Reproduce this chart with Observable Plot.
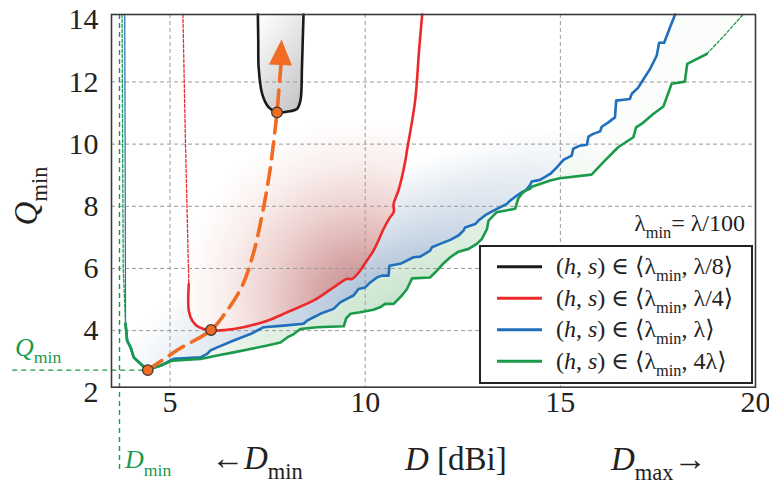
<!DOCTYPE html>
<html><head><meta charset="utf-8">
<script src="https://cdn.jsdelivr.net/npm/d3@7"></script>
<script src="https://cdn.jsdelivr.net/npm/@observablehq/plot@0.6"></script>
<style>body{margin:0;background:#fff} #chart{width:769px;height:484px} text{white-space:pre}</style>
</head><body><div id="chart"></div>
<script>
// ---- data (D [dBi], Q_min) ----
const xTicks = [5, 10, 15, 20];
const yTicks = [2, 4, 6, 8, 10, 12, 14];
const xGrid = [5, 10, 15];
const yGrid = [4, 6, 8, 10, 12];
const xDomain = [3.5, 20];
const yDomain = [2.18, 14.17];
const Dmin = 3.705;
const Qmin = 2.73;

const blackCurve = [[7.25,14.17],[7.26,13.33],[7.27,12.47],[7.36,11.62],[7.53,11.18],[7.74,11.02],[8.08,11.06],[8.25,11.13],[8.34,11.40],[8.38,12.47],[8.40,13.33],[8.42,14.17]];

const redDashed = [[5.33,14.17],[5.39,10.34],[5.48,5.50]];
const redSolid = [[5.48,5.50],[5.48,4.64],[5.57,4.32],[5.74,4.11],[6.04,4.01],[6.63,4.05],[7.49,4.32],[8.00,4.59],[8.68,4.97],[9.19,5.39],[9.53,5.66],[9.66,5.66],[9.87,5.93],[10.04,6.25],[10.21,6.57],[10.34,6.90],[10.47,7.27],[10.64,7.65],[10.73,7.81],[10.73,8.08],[10.85,8.50],[10.94,8.93],[11.03,9.47],[11.07,9.79],[11.28,11.40],[11.38,13.01],[11.46,14.17]];

const blueThin = [[3.84,14.17],[3.86,4.22]];
const blueSolid = [[3.86,4.22],[3.90,3.68],[3.99,3.46],[4.07,3.14],[4.16,3.03],[4.41,2.74],[4.75,2.87],[5.09,3.09],[5.78,3.14],[5.95,3.25],[6.03,3.36],[6.21,3.46],[6.63,3.68],[7.06,3.89],[7.40,4.11],[7.91,4.16],[8.42,4.22],[8.51,4.32],[8.68,4.43],[8.85,4.54],[9.19,4.70],[9.36,4.91],[9.53,5.02],[9.70,5.13],[9.83,5.34],[10.00,5.39],[10.13,5.55],[10.30,5.71],[10.43,5.77],[10.60,5.77],[10.62,6.09],[10.90,6.15],[11.24,6.36],[11.41,6.38],[11.66,6.57],[11.71,6.68],[11.92,6.79],[12.18,6.92],[12.39,7.06],[12.52,7.22],[12.56,7.32],[12.82,7.43],[12.90,7.54],[13.12,7.75],[13.29,7.86],[13.63,8.08],[13.71,8.18],[13.88,8.34],[14.01,8.45],[14.10,8.50],[14.22,8.67],[14.27,8.80],[14.48,8.85],[14.74,9.04],[14.91,9.25],[15.08,9.49],[15.29,9.63],[15.33,9.85],[15.50,9.95],[15.68,9.98],[15.72,10.24],[15.84,10.33],[16.02,10.41],[16.06,10.56],[16.23,10.70],[16.40,10.86],[16.43,11.40],[16.78,11.45],[16.83,11.62],[16.99,11.81],[17.08,11.99],[17.30,12.42],[17.47,12.85],[17.53,13.26],[17.66,13.26],[17.81,13.76],[17.94,14.17]];

const greenDashLeft = [[3.77,14.17],[3.80,6.00],[3.86,4.22]];
const greenSolid = [[3.86,4.22],[3.90,3.68],[3.99,3.46],[4.07,3.14],[4.16,3.03],[4.41,2.74],[4.75,2.87],[5.05,3.03],[5.78,3.09],[6.21,3.20],[6.63,3.30],[7.06,3.41],[7.49,3.52],[7.83,3.62],[8.00,3.78],[8.17,3.89],[8.34,4.05],[8.76,4.11],[9.45,4.14],[9.51,4.39],[9.62,4.54],[9.87,4.59],[10.21,4.67],[10.38,4.75],[10.51,4.86],[10.73,4.86],[10.94,5.13],[11.07,5.34],[11.20,5.68],[11.66,5.71],[11.84,5.93],[12.01,6.17],[12.18,6.36],[12.39,6.54],[12.65,6.63],[12.86,6.79],[12.99,6.95],[13.12,7.27],[13.16,7.54],[13.37,7.81],[13.84,7.92],[13.92,8.24],[14.01,8.40],[14.10,8.50],[14.22,8.56],[14.27,8.63],[14.48,8.72],[14.74,8.83],[14.99,8.90],[15.80,9.02],[16.14,9.47],[16.48,9.90],[16.87,10.22],[16.94,10.54],[17.08,10.65],[17.38,10.97],[17.64,11.21],[17.85,11.94],[18.19,12.01],[18.25,12.58],[18.75,12.90]];
const greenDashRight = [[18.75,12.90],[19.22,13.52],[19.68,14.17]];

const orangePath = [[4.43,2.73],[5.21,3.39],[6.05,4.02],[6.40,4.54],[6.83,5.39],[7.13,6.46],[7.38,7.86],[7.56,9.15],[7.68,10.34],[7.74,11.02],[7.80,11.90],[7.84,12.53]];
const arrowTip = [7.87, 13.35];
const minima = [[4.43,2.73],[6.05,4.02],[7.74,11.02]];

const legendLabels = ["λ/8", "λ/4", "λ", "4λ"];
const legendColors = ["#1a1a1a", "#ec2a2c", "#1f6fbb", "#1b9a4a"];

// ---- styles ----
const FONT = "Liberation Serif, DejaVu Serif, serif";
const C = {black: legendColors[0], red: legendColors[1], blue: legendColors[2], green: legendColors[3], orange: "#f26b22", grid: "#9a9a9a"};
const yTop = yDomain[1];
const px = d => d[0], py = d => d[1];

const plot = Plot.plot({
  width: 769, height: 484,
  marginLeft: 111, marginRight: 14, marginTop: 14, marginBottom: 97.3,
  style: {fontFamily: FONT, background: "#fff", overflow: "visible"},
  x: {domain: xDomain, axis: null},
  y: {domain: yDomain, axis: null},
  marks: [
    Plot.area(greenSolid.concat(greenDashRight), {x1: px, y1: py, y2: () => yTop, fill: "url(#gGreen)"}),
    Plot.area(blueThin.concat(blueSolid), {x1: px, y1: py, y2: () => yTop, fill: "url(#gBlue)"}),
    Plot.area(redDashed.concat(redSolid), {x1: px, y1: py, y2: () => yTop, fill: "url(#gRed)"}),
    Plot.area(blackCurve, {x1: px, y1: py, y2: () => yTop, fill: "url(#gBlack)", curve: "catmull-rom"}),
    Plot.ruleX(xGrid, {stroke: C.grid, strokeWidth: 1, strokeDasharray: "4,3"}),
    Plot.ruleY(yGrid, {stroke: C.grid, strokeWidth: 1, strokeDasharray: "4,3"}),
    Plot.line(blueThin, {x: px, y: py, stroke: C.blue, strokeWidth: 1.2}),
    Plot.line(blueSolid, {x: px, y: py, stroke: C.blue, strokeWidth: 2.6}),
    Plot.line(greenDashLeft, {x: px, y: py, stroke: C.green, strokeWidth: 1.3, strokeDasharray: "3,2"}),
    Plot.line(greenDashRight, {x: px, y: py, stroke: C.green, strokeWidth: 1.3, strokeDasharray: "3,2"}),
    Plot.line(greenSolid, {x: px, y: py, stroke: C.green, strokeWidth: 2.6}),
    Plot.line(redDashed, {x: px, y: py, stroke: C.red, strokeWidth: 1.3, strokeDasharray: "3,2"}),
    Plot.line(redSolid, {x: px, y: py, stroke: C.red, strokeWidth: 2.6, curve: "catmull-rom"}),
    Plot.line(blackCurve, {x: px, y: py, stroke: C.black, strokeWidth: 2.6, curve: "catmull-rom"}),
    Plot.ruleX([Dmin], {y1: yTop, y2: -0.5, stroke: C.green, strokeWidth: 1.4, strokeDasharray: "5,4"}),
    Plot.ruleY([Qmin], {x1: 0.97, x2: minima[0][0], stroke: C.green, strokeWidth: 1.4, strokeDasharray: "5,4"}),
    Plot.frame({stroke: "#3a3a3a", strokeWidth: 1.6}),
    Plot.line(orangePath, {x: px, y: py, stroke: C.orange, strokeWidth: 3.6, strokeDasharray: "17,9", curve: "catmull-rom"}),
    Plot.dot(minima, {x: px, y: py, r: 5.3, fill: C.orange, stroke: "#333", strokeWidth: 1.2}),
    Plot.text(yTicks, {y: d => d, text: d => String(d), frameAnchor: "left", dx: -13, textAnchor: "end", fontSize: 30, fontFamily: FONT, fill: "#222"}),
    Plot.text(xTicks, {x: d => d, text: d => String(d), frameAnchor: "bottom", dy: 25, fontSize: 30, fontFamily: FONT, fill: "#222"})
  ]
});
document.getElementById("chart").appendChild(plot);

// ---- post: gradients, arrowhead, rich labels, legend ----
const svg = d3.select(plot);
const xs = plot.scale("x"), ys = plot.scale("y");
const X = v => xs.apply(v), Y = v => ys.apply(v);
const defs = svg.insert("defs", ":first-child");
function radial(id, c, rx, ry, angle, stops) {
  const cx = X(c[0]), cy = Y(c[1]);
  const g = defs.append("radialGradient").attr("id", id).attr("gradientUnits", "userSpaceOnUse")
    .attr("cx", cx).attr("cy", cy).attr("r", rx)
    .attr("gradientTransform", `translate(${cx},${cy}) rotate(${angle}) scale(1,${ry / rx}) translate(${-cx},${-cy})`);
  stops.forEach(([o, col]) => g.append("stop").attr("offset", o).attr("stop-color", col));
}
radial("gBlue", [10.4, 5.5], 300, 100, -25, [[0, "#acc1d8"], [0.45, "#d6e0eb"], [1, "#ffffff"]]);
radial("gRed", [9.9, 5.0], 180, 180, 0, [[0, "#c08a8e"], [0.25, "#d9a9a9"], [0.5, "#ecd0ce"], [0.75, "#f9eeec"], [1, "#ffffff"]]);
radial("gGreen", [10.8, 4.9], 300, 110, -25, [[0, "#c8e4cd"], [0.5, "#e3f1e5"], [1, "#fbfdfb"]]);
{
  const g = defs.append("linearGradient").attr("id", "gBlack").attr("x1", 0.2).attr("y1", 0).attr("x2", 0.8).attr("y2", 1);
  g.append("stop").attr("offset", 0).attr("stop-color", "#fcfcfc");
  g.append("stop").attr("offset", 1).attr("stop-color", "#c6c6c6");
}

// arrowhead
{
  const b = orangePath[orangePath.length - 1];
  const bx = X(b[0]), by = Y(b[1]), tx = X(arrowTip[0]), ty = Y(arrowTip[1]);
  const L = Math.hypot(tx - bx, ty - by), ux = (tx - bx) / L, uy = (ty - by) / L, hw = 11.5;
  const p = [[tx, ty], [bx - uy * hw, by + ux * hw], [bx + uy * hw, by - ux * hw]];
  svg.append("path").attr("d", "M" + p.map(q => q.join(",")).join("L") + "Z").attr("fill", C.orange);
}

function rich(parent, x, y, parts, {size = 22, anchor = "start", fill = "#222", rotate = 0} = {}) {
  const t = parent.append("text").attr("x", x).attr("y", y).attr("font-family", FONT)
    .attr("font-size", size).attr("fill", fill).attr("text-anchor", "start");
  let shift = 0;
  for (const p of parts) {
    const ts = t.append("tspan").text(p.t);
    if (p.i) ts.attr("font-style", "italic");
    const target = p.sub ? size * 0.3 : 0;
    if (target !== shift) { ts.attr("dy", target - shift); shift = target; }
    if (p.sub) ts.attr("font-size", size * 0.68);
  }
  const len = t.node().getComputedTextLength();
  const off = anchor === "end" ? len : anchor === "middle" ? len / 2 : 0;
  t.attr("x", x - off);
  if (rotate) t.attr("transform", `rotate(${rotate},${x},${y})`);
  return t;
}
// axis labels
rich(svg, 37, 196, [{t: "Q", i: 1}, {t: "min", sub: 1}], {size: 33, anchor: "middle", rotate: -90});
rich(svg, 211, 469, [{t: "←"}, {t: "D", i: 1}, {t: "min", sub: 1}], {size: 33});
rich(svg, 405, 470, [{t: "D", i: 1}, {t: " [dBi]"}], {size: 33});
rich(svg, 611, 470, [{t: "D", i: 1}, {t: "max", sub: 1}, {t: "→"}], {size: 33});
// green annotations
rich(svg, X(Dmin) + 6, 468, [{t: "D", i: 1}, {t: "min", sub: 1}], {size: 26, fill: C.green});
rich(svg, 15, Y(Qmin) - 14, [{t: "Q", i: 1}, {t: "min", sub: 1}], {size: 26, fill: C.green});
// lambda note
rich(svg, 745, 231, [{t: "λ"}, {t: "min", sub: 1}, {t: "= λ/100"}], {size: 24, anchor: "end"});
// legend
{
  const lg = svg.append("g");
  lg.append("rect").attr("x", 480).attr("y", 246).attr("width", 272).attr("height", 137)
    .attr("fill", "#fff").attr("stroke", "#222").attr("stroke-width", 2);
  legendLabels.forEach((lab, k) => {
    const yy = 266.7 + k * 31.5;
    lg.append("line").attr("x1", 497).attr("x2", 542).attr("y1", yy).attr("y2", yy)
      .attr("stroke", legendColors[k]).attr("stroke-width", 3);
    rich(lg, 556, yy + 7.5, [{t: "("}, {t: "h", i: 1}, {t: ", "}, {t: "s", i: 1}, {t: ") ∈ ⟨λ"}, {t: "min", sub: 1}, {t: ", " + lab + "⟩"}], {size: 24});
  });
}
</script>
</body></html>
